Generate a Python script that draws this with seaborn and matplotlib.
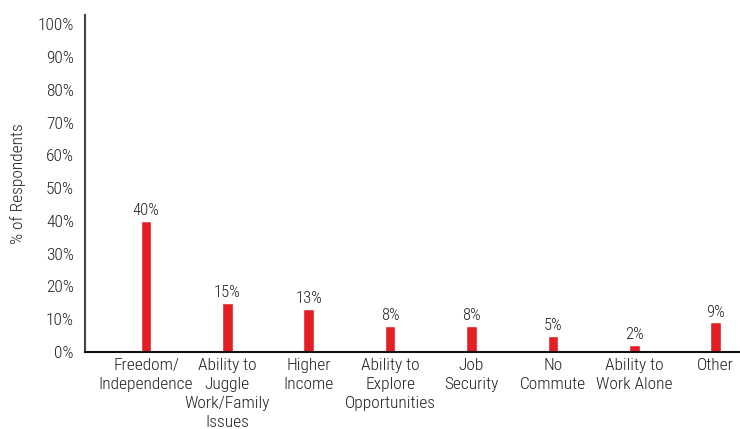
import matplotlib
matplotlib.use("Agg")
import matplotlib.pyplot as plt
import seaborn as sns
import pandas as pd
import logging

logging.getLogger("matplotlib.font_manager").setLevel(logging.ERROR)

categories = [
    "Freedom/\nIndependence",
    "Ability to\nJuggle\nWork/Family\nIssues",
    "Higher\nIncome",
    "Ability to\nExplore\nOpportunities",
    "Job\nSecurity",
    "No\nCommute",
    "Ability to\nWork Alone",
    "Other",
]
values = [40, 15, 13, 8, 8, 5, 2, 9]
y_ticks = [0, 10, 20, 30, 40, 50, 60, 70, 80, 90, 100]

sns.set_theme(style="white")
plt.rcParams["font.family"] = ["Roboto Condensed", "Archivo Narrow",
                               "Liberation Sans Narrow", "Lato", "DejaVu Sans"]
plt.rcParams["font.weight"] = "light"
plt.rcParams["axes.labelweight"] = "light"

df = pd.DataFrame({"reason": categories, "pct": values})

fig = plt.figure(figsize=(7.4, 4.29), dpi=100)
ax = fig.add_axes([85 / 740, 1 - 352 / 429, 655 / 740, 337 / 429])

sns.barplot(data=df, x="reason", y="pct", color="#E31E24", saturation=1,
            width=0.13, ax=ax)

text_color = "#222222"
fs = 12.5
ax.set_xlim(-0.75, 7.3)
ax.set_ylim(0, 102.8)
ax.set_yticks(y_ticks)
ax.set_yticklabels([f"{t}%" for t in y_ticks], fontsize=fs, color=text_color)
ax.set_xticks(range(len(categories)))
ax.set_xticklabels(categories, fontsize=fs, color=text_color, linespacing=1.35)
ax.tick_params(axis="y", length=0, pad=8)
ax.tick_params(axis="x", length=0, pad=4)
ax.set_xlabel("")
ax.set_ylabel("% of Respondents", fontsize=fs, color=text_color, labelpad=8,
              fontweight="light")

for i, v in enumerate(values):
    ax.text(i, v + 0.9, f"{v}%", ha="center", va="bottom", fontsize=fs - 0.5,
            color=text_color)

for side in ("top", "right"):
    ax.spines[side].set_visible(False)
ax.spines["left"].set_color("#444444")
ax.spines["left"].set_linewidth(1.5)
ax.spines["bottom"].set_color("#111111")
ax.spines["bottom"].set_linewidth(1.5)

fig.savefig("out.png", dpi=100)
